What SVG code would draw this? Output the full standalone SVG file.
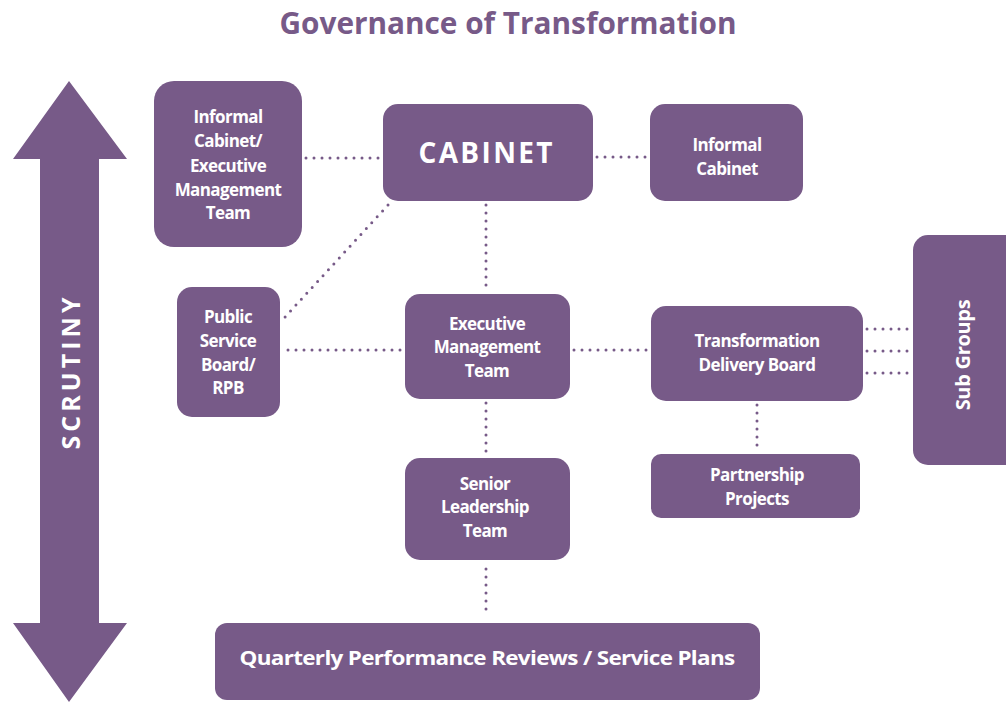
<svg xmlns="http://www.w3.org/2000/svg" width="1006" height="702" viewBox="0 0 1006 702">
<style>
.box{fill:#775a88}
.lbl{font-family:"Open Sans","Liberation Sans",sans-serif;font-weight:700;fill:#ffffff;text-anchor:middle;font-size:17px;letter-spacing:-0.6px}
.dot{fill:none;stroke:#775a88;stroke-width:3;stroke-linecap:round;stroke-dasharray:0 8}
.title{font-family:"Open Sans","Liberation Sans",sans-serif;font-weight:700;fill:#775a88;text-anchor:middle;font-size:31px}
</style>
<rect width="1006" height="702" fill="#ffffff"/>
<text class="title" x="508" y="34" textLength="457" lengthAdjust="spacingAndGlyphs">Governance of Transformation</text>

<g id="scrutiny">
<polygon class="box" points="69,81 127,159 99,159 99,623 127,623 69,702 13,623 40,623 40,159 13,159"/>
<text transform="translate(80,371) rotate(-90)" font-family="Open Sans, Liberation Sans, sans-serif" font-weight="700" font-size="25" fill="#ffffff" text-anchor="middle" letter-spacing="5" textLength="157">SCRUTINY</text>
</g>

<g id="connectors">
<line class="dot" x1="306" y1="158" x2="381" y2="158"/>
<line class="dot" x1="597" y1="157" x2="648" y2="157"/>
<line class="dot" x1="388" y1="205" x2="285" y2="317"/>
<line class="dot" x1="486" y1="205" x2="486" y2="290"/>
<line class="dot" x1="288" y1="350" x2="403" y2="350"/>
<line class="dot" x1="574" y1="350" x2="649" y2="350"/>
<line class="dot" x1="867" y1="329" x2="911" y2="329"/>
<line class="dot" x1="867" y1="351" x2="911" y2="351"/>
<line class="dot" x1="867" y1="373" x2="911" y2="373"/>
<line class="dot" x1="757" y1="405" x2="757" y2="450"/>
<line class="dot" x1="486" y1="403" x2="486" y2="455"/>
<line class="dot" x1="486" y1="569" x2="486" y2="613"/>
</g>

<g id="informal-cabinet-emt">
<rect class="box" x="154" y="81" width="148" height="166" rx="20"/>
<text class="lbl"><tspan x="228" y="123">Informal</tspan><tspan x="228" y="147">Cabinet/</tspan><tspan x="228" y="172">Executive</tspan><tspan x="228" y="196">Management</tspan><tspan x="228" y="219">Team</tspan></text>
</g>

<g id="cabinet">
<rect class="box" x="383" y="104" width="210" height="97" rx="15"/>
<text x="488" y="163" font-family="Open Sans, Liberation Sans, sans-serif" font-weight="700" font-size="28" fill="#ffffff" text-anchor="middle" letter-spacing="5" textLength="139">CABINET</text>
</g>

<g id="informal-cabinet">
<rect class="box" x="650" y="104" width="153" height="97" rx="15"/>
<text class="lbl"><tspan x="727" y="151">Informal</tspan><tspan x="727" y="175">Cabinet</tspan></text>
</g>

<g id="public-service-board">
<rect class="box" x="177" y="287" width="103" height="130" rx="15"/>
<text class="lbl"><tspan x="228" y="323">Public</tspan><tspan x="228" y="347">Service</tspan><tspan x="228" y="371">Board/</tspan><tspan x="228" y="394">RPB</tspan></text>
</g>

<g id="executive-management-team">
<rect class="box" x="405" y="294" width="165" height="105" rx="15"/>
<text class="lbl"><tspan x="487" y="330">Executive</tspan><tspan x="487" y="353">Management</tspan><tspan x="487" y="377">Team</tspan></text>
</g>

<g id="transformation-delivery-board">
<rect class="box" x="651" y="306" width="212" height="95" rx="15"/>
<text class="lbl"><tspan x="757" y="347">Transformation</tspan><tspan x="757" y="371">Delivery Board</tspan></text>
</g>

<g id="sub-groups">
<rect class="box" x="913" y="235" width="110" height="230" rx="15"/>
<text transform="translate(970,355) rotate(-90)" class="lbl" font-size="20" style="font-size:20px;letter-spacing:-0.3px">Sub Groups</text>
</g>

<g id="partnership-projects">
<rect class="box" x="651" y="454" width="209" height="64" rx="10"/>
<text class="lbl"><tspan x="757" y="481">Partnership</tspan><tspan x="757" y="505">Projects</tspan></text>
</g>

<g id="senior-leadership-team">
<rect class="box" x="405" y="458" width="165" height="102" rx="15"/>
<text class="lbl"><tspan x="485" y="490">Senior</tspan><tspan x="485" y="513">Leadership</tspan><tspan x="485" y="537">Team</tspan></text>
</g>

<g id="quarterly-reviews">
<rect class="box" x="215" y="623" width="545" height="77" rx="12"/>
<text class="lbl" x="487" y="665" style="font-size:20px" textLength="495" lengthAdjust="spacingAndGlyphs">Quarterly Performance Reviews / Service Plans</text>
</g>
</svg>
